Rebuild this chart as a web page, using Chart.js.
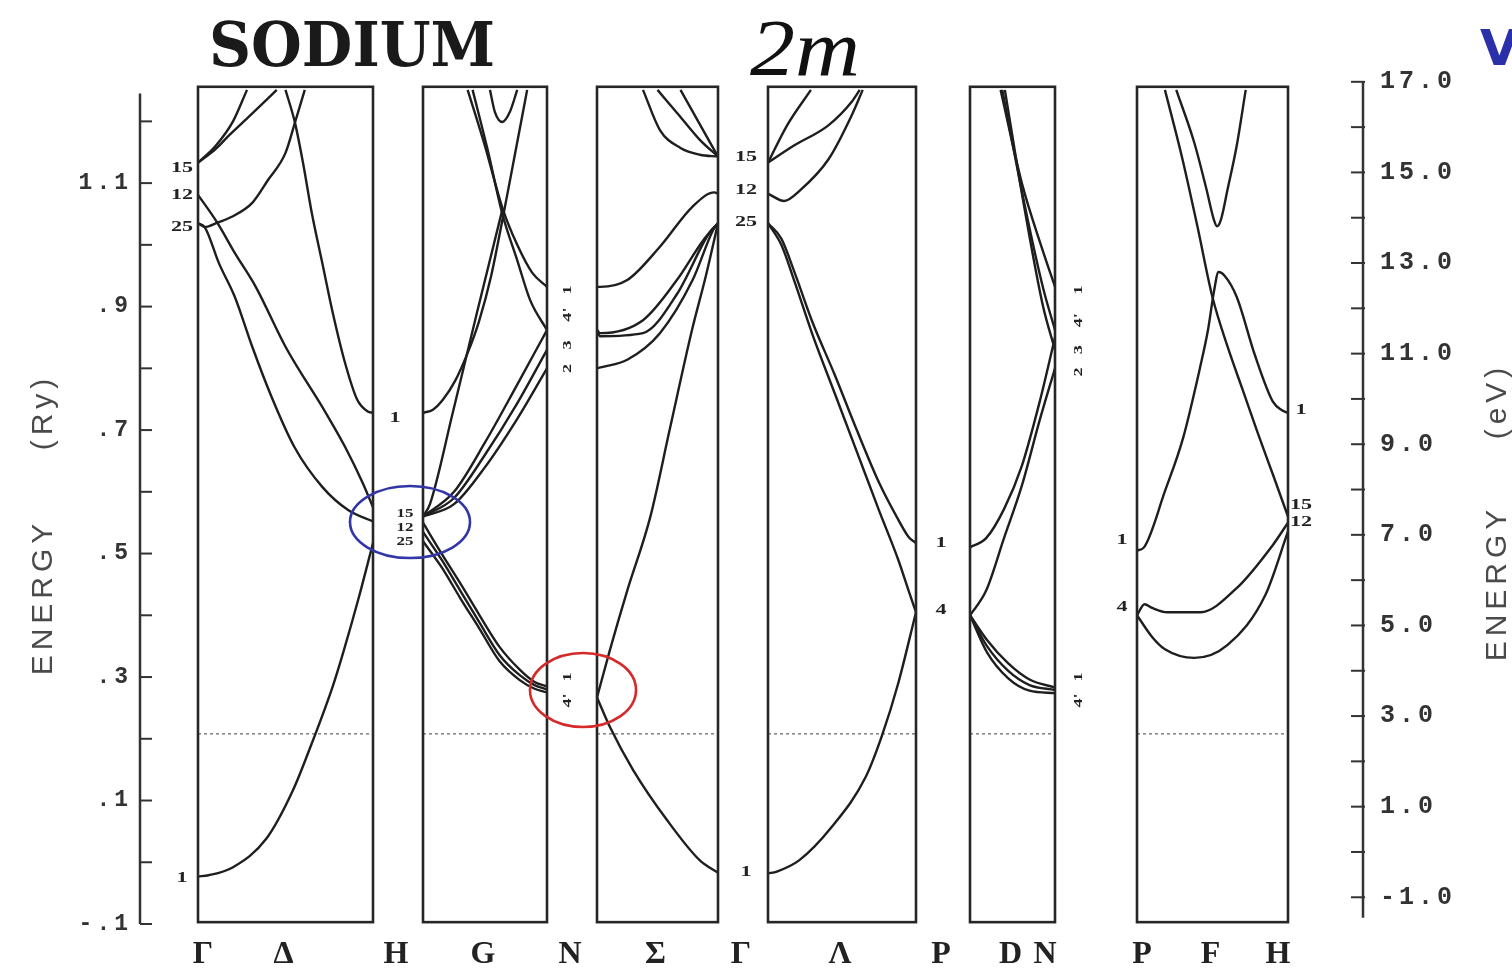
<!DOCTYPE html>
<html>
<head>
<meta charset="utf-8">
<script src="https://cdn.jsdelivr.net/npm/chart.js@4.4.1/dist/chart.umd.min.js"></script>
<style>
  html, body { margin: 0; padding: 0; background: #fff; }
  #wrap { position: relative; width: 1512px; height: 971px; overflow: hidden; background: #fff; }
  canvas { display: block; }
</style>
</head>
<body>
<div id="wrap"><canvas id="bands" width="1512" height="971"></canvas></div>
<script>
// symmetry points along each panel of the path
const pathPanels = [['Γ', 'Δ', 'H'], ['H', 'G', 'N'], ['N', 'Σ', 'Γ'], ['Γ', 'Λ', 'P'], ['P', 'D', 'N'], ['P', 'F', 'H']];

// bands: [k as fraction of panel, energy in Ry]
const bandsGammaH = [
  [[0, -0.023], [0.06, -0.021], [0.2, -0.008], [0.39, 0.038], [0.54, 0.115], [0.64, 0.185], [0.77, 0.285], [0.83, 0.34], [0.92, 0.43], [1, 0.517]],
  [[0, 1.035], [0.04, 1.028], [0.12, 0.97], [0.21, 0.916], [0.31, 0.835], [0.42, 0.754], [0.55, 0.673], [0.71, 0.608], [0.86, 0.57], [1, 0.552]],
  [[0, 1.081], [0.11, 1.036], [0.21, 0.987], [0.33, 0.932], [0.5, 0.835], [0.73, 0.728], [0.84, 0.673], [0.94, 0.615], [1, 0.575]],
  [[0.5, 1.251], [0.554, 1.198], [0.6, 1.133], [0.65, 1.052], [0.71, 0.971], [0.77, 0.89], [0.84, 0.809], [0.91, 0.749], [0.97, 0.73], [1, 0.728]],
  [[0, 1.035], [0.04, 1.029], [0.11, 1.036], [0.19, 1.045], [0.31, 1.068], [0.4, 1.105], [0.5, 1.149], [0.554, 1.198], [0.61, 1.251]],
  [[0, 1.133], [0.1, 1.16], [0.2, 1.2], [0.28, 1.251]],
  [[0, 1.133], [0.1, 1.155], [0.18, 1.178], [0.3, 1.21], [0.45, 1.251]]
];
const bandsHN = [
  [[0, 0.728], [0.08, 0.733], [0.16, 0.749], [0.26, 0.78], [0.36, 0.825], [0.45, 0.875], [0.55, 0.95], [0.64, 1.04], [0.74, 1.145], [0.84, 1.251]],
  [[0.4, 1.251], [0.52, 1.155], [0.64, 1.05], [0.76, 0.975], [0.865, 0.91], [1, 0.862]],
  [[0.36, 1.251], [0.5, 1.16], [0.64, 1.06], [0.76, 1.0], [0.88, 0.955], [1, 0.932]],
  [[0, 0.56], [0.056, 0.58], [0.24, 0.728], [0.435, 0.89], [0.64, 1.057]],
  [[0.54, 1.251], [0.58, 1.215], [0.64, 1.199], [0.7, 1.215], [0.76, 1.251]],
  [[0, 0.56], [0.25, 0.6], [0.5, 0.68], [0.75, 0.77], [1, 0.862]],
  [[0, 0.56], [0.25, 0.59], [0.5, 0.66], [0.75, 0.74], [1, 0.83]],
  [[0, 0.56], [0.25, 0.58], [0.5, 0.64], [0.75, 0.715], [1, 0.8]],
  [[0, 0.535], [0.15, 0.49], [0.3, 0.44], [0.45, 0.39], [0.62, 0.335], [0.78, 0.303], [0.9, 0.287], [1, 0.28]],
  [[0, 0.55], [0.15, 0.5], [0.3, 0.452], [0.45, 0.402], [0.62, 0.348], [0.78, 0.312], [0.9, 0.292], [1, 0.285]],
  [[0, 0.52], [0.15, 0.478], [0.3, 0.428], [0.45, 0.38], [0.62, 0.325], [0.78, 0.295], [0.9, 0.281], [1, 0.275]]
];
const bandsNGamma = [
  [[0, 0.932], [0.025, 0.932], [0.25, 0.943], [0.52, 0.997], [0.79, 1.062], [0.97, 1.085], [1, 1.083]],
  [[0, 0.862], [0.025, 0.857], [0.38, 0.878], [0.66, 0.943], [0.88, 1.008], [1, 1.035]],
  [[0, 0.862], [0.025, 0.852], [0.38, 0.857], [0.66, 0.92], [0.93, 1.02], [1, 1.035]],
  [[0, 0.8], [0.04, 0.802], [0.25, 0.814], [0.52, 0.857], [0.79, 0.943], [0.96, 1.024], [1, 1.035]],
  [[0.38, 1.251], [0.52, 1.186], [0.69, 1.157], [0.85, 1.146], [1, 1.143]],
  [[0.5, 1.251], [0.69, 1.207], [0.85, 1.17], [1, 1.143]],
  [[0.69, 1.251], [0.85, 1.195], [1, 1.143]],
  [[0, 0.267], [0.107, 0.344], [0.25, 0.44], [0.44, 0.559], [0.6, 0.7], [0.785, 0.862], [0.9, 0.95], [1, 1.035]],
  [[0, 0.267], [0.107, 0.219], [0.3, 0.149], [0.58, 0.068], [0.85, 0.003], [1, -0.017]]
];
const bandsGammaP = [
  [[0, 1.133], [0.13, 1.194], [0.29, 1.251]],
  [[0, 1.133], [0.17, 1.16], [0.41, 1.194], [0.57, 1.233], [0.62, 1.251]],
  [[0, 1.083], [0.11, 1.071], [0.22, 1.089], [0.41, 1.139], [0.57, 1.212], [0.64, 1.251]],
  [[0, 1.035], [0.09, 1.01], [0.18, 0.955], [0.3, 0.875], [0.45, 0.79], [0.6, 0.7], [0.75, 0.615], [0.88, 0.555], [0.95, 0.527], [1, 0.517]],
  [[0, 1.035], [0.09, 1.0], [0.18, 0.94], [0.3, 0.855], [0.45, 0.76], [0.6, 0.665], [0.75, 0.57], [0.88, 0.49], [0.95, 0.44], [1, 0.405]],
  [[0, -0.018], [0.06, -0.015], [0.21, 0.003], [0.43, 0.057], [0.66, 0.138], [0.77, 0.205], [0.88, 0.29], [1, 0.405]]
];
const bandsPN = [
  [[0.36, 1.251], [0.61, 1.1], [0.86, 0.989], [1, 0.932]],
  [[0.38, 1.251], [0.62, 1.08], [0.86, 0.93], [1, 0.862]],
  [[0.41, 1.251], [0.64, 1.06], [0.86, 0.9], [1, 0.83]],
  [[0, 0.51], [0.19, 0.525], [0.4, 0.572], [0.61, 0.642], [0.82, 0.746], [1, 0.85]],
  [[0, 0.4], [0.19, 0.44], [0.4, 0.525], [0.61, 0.61], [0.82, 0.716], [1, 0.8]],
  [[0, 0.4], [0.2, 0.36], [0.45, 0.322], [0.7, 0.296], [1, 0.283]],
  [[0, 0.4], [0.2, 0.35], [0.45, 0.31], [0.7, 0.287], [1, 0.279]],
  [[0, 0.4], [0.2, 0.34], [0.45, 0.298], [0.7, 0.278], [1, 0.274]]
];
const bandsPH = [
  [[0, 0.505], [0.046, 0.51], [0.185, 0.601], [0.305, 0.687], [0.42, 0.804], [0.47, 0.862], [0.51, 0.925], [0.54, 0.956], [0.58, 0.95], [0.66, 0.916], [0.78, 0.822], [0.9, 0.746], [0.96, 0.732], [1, 0.728]],
  [[0.185, 1.251], [0.3, 1.14], [0.4, 1.03], [0.5, 0.915], [0.6, 0.835], [0.7, 0.765], [0.8, 0.695], [0.9, 0.628], [1, 0.56]],
  [[0.26, 1.251], [0.38, 1.165], [0.46, 1.09], [0.51, 1.04], [0.53, 1.03], [0.555, 1.04], [0.6, 1.09], [0.66, 1.16], [0.72, 1.251]],
  [[0, 0.4], [0.05, 0.418], [0.1, 0.412], [0.2, 0.405], [0.42, 0.405], [0.66, 0.444], [0.9, 0.514], [1, 0.55]],
  [[0, 0.4], [0.1, 0.365], [0.185, 0.345], [0.38, 0.331], [0.6, 0.352], [0.85, 0.433], [1, 0.536]]
];
const panelBands = [bandsGammaH, bandsHN, bandsNGamma, bandsGammaP, bandsPN, bandsPH];

// level labels at symmetry points: panel, edge (0 left / 1 right), energies, names
const levelTags = [
  { p: 0, edge: 0, dx: -16, rot: false, e: [1.125, 1.081, 1.029, -0.026], t: ['15', '12', '25', '1'] },
  { p: 0, edge: 1, dx: 22, rot: false, e: [0.72], t: ['1'] },
  { p: 0, edge: 1, dx: 32, rot: false, small: true, e: [0.564, 0.542, 0.519], t: ['15', '12', '25'] },
  { p: 1, edge: 1, dx: 21, rot: true, e: [0.927, 0.887, 0.838, 0.8], t: ['1', "4'", '3', '2'] },
  { p: 1, edge: 1, dx: 21, rot: true, e: [0.3, 0.262], t: ['1', "4'"] },
  { p: 2, edge: 1, dx: 28, rot: false, e: [1.143, 1.089, 1.037, -0.016], t: ['15', '12', '25', '1'] },
  { p: 3, edge: 1, dx: 25, rot: false, e: [0.517, 0.408], t: ['1', '4'] },
  { p: 4, edge: 1, dx: 24, rot: true, e: [0.927, 0.878, 0.83, 0.794], t: ['1', "4'", '3', '2'] },
  { p: 4, edge: 1, dx: 24, rot: true, e: [0.3, 0.262], t: ['1', "4'"] },
  { p: 5, edge: 0, dx: -15, rot: false, e: [0.522, 0.413], t: ['1', '4'] },
  { p: 5, edge: 1, dx: 13, rot: false, e: [0.733, 0.579, 0.551], t: ['1', '15', '12'] }
];

const fermiRy = 0.208;
const ryRange = [-0.1, 1.267];
const evRange = [-1.59, 17.04];
const ryTicks = [-0.1, 0, 0.1, 0.2, 0.3, 0.4, 0.5, 0.6, 0.7, 0.8, 0.9, 1.0, 1.1, 1.2];
const evTicks = [-1, 0, 1, 2, 3, 4, 5, 6, 7, 8, 9, 10, 11, 12, 13, 14, 15, 16, 17];
const highlightH = 0.551;   // blue ring at H
const highlightN = 0.279;   // red ring at N

// layout of the six panels along the x axis (axis units)
const panelSpan = [[58, 233], [283, 407], [457, 578], [628, 776], [830, 915], [997, 1148]];
const panelTop = 1.256, panelBottom = -0.097;

// x tick positions/labels from the panels
const tickPos = [], tickNames = [];
pathPanels.forEach((pts, p) => {
  const [x0, x1] = panelSpan[p];
  const prev = panelSpan[p - 1];
  const shared = p > 0 && pathPanels[p - 1][2] === pts[0] && x0 - prev[1] < 60;
  if (!shared) { tickPos.push(x0 + 7); tickNames.push(pts[0]); }
  tickPos.push((x0 + x1) / 2); tickNames.push(pts[1]);
  const next = panelSpan[p + 1];
  const sharedNext = p < pathPanels.length - 1 && pathPanels[p + 1][0] === pts[2] && next[0] - x1 < 60;
  if (sharedNext) { tickPos.push((x1 + next[0]) / 2); } else { tickPos.push(x1 - 8); }
  tickNames.push(pts[2]);
});

const datasets = [];
panelBands.forEach((bands, p) => {
  const [x0, x1] = panelSpan[p];
  bands.forEach(band => {
    datasets.push({
      data: band.map(([f, e]) => ({ x: x0 + f * (x1 - x0), y: e })),
      showLine: true,
      borderColor: '#1e1e1e',
      borderWidth: 2.4,
      pointRadius: 0,
      cubicInterpolationMode: 'monotone',
      fill: false
    });
  });
});

function drawTag(ctx, x, y, text, rot, size) {
  ctx.save();
  ctx.translate(x, y);
  if (rot) ctx.rotate(-Math.PI / 2);
  ctx.scale(1.3, 0.9);
  ctx.font = 'bold ' + size + 'px "Liberation Serif"';
  ctx.fillStyle = '#222';
  ctx.textAlign = 'center';
  ctx.textBaseline = 'middle';
  ctx.fillText(text, 0, 0);
  ctx.restore();
}

function drawRotated(ctx, text, x, y) {
  ctx.save();
  ctx.translate(x, y);
  ctx.rotate(-Math.PI / 2);
  ctx.textAlign = 'center';
  ctx.textBaseline = 'middle';
  ctx.fillText(text, 0, 0);
  ctx.restore();
}

const decor = {
  id: 'decor',
  beforeDraw(chart) {
    chart.ctx.letterSpacing = '4px';
  },
  beforeDatasetsDraw(chart) {
    const ctx = chart.ctx;
    ctx.letterSpacing = '0px';
    const sx = chart.scales.x, sy = chart.scales.y;
    // Fermi level, dotted
    ctx.save();
    ctx.strokeStyle = '#808080';
    ctx.lineWidth = 1.5;
    ctx.setLineDash([3, 3]);
    panelSpan.forEach(([x0, x1]) => {
      const y = sy.getPixelForValue(fermiRy);
      ctx.beginPath();
      ctx.moveTo(sx.getPixelForValue(x0), y);
      ctx.lineTo(sx.getPixelForValue(x1), y);
      ctx.stroke();
    });
    ctx.restore();
  },
  afterDatasetsDraw(chart) {
    const ctx = chart.ctx;
    const sx = chart.scales.x, sy = chart.scales.y, se = chart.scales.y2;
    const area = chart.chartArea;
    ctx.save();
    ctx.letterSpacing = '0px';

    // panel frames
    ctx.strokeStyle = '#262626';
    ctx.lineWidth = 2.6;
    panelSpan.forEach(([x0, x1]) => {
      const l = sx.getPixelForValue(x0), r = sx.getPixelForValue(x1);
      const t = sy.getPixelForValue(panelTop), b = sy.getPixelForValue(panelBottom);
      ctx.strokeRect(l, t, r - l, b - t);
    });

    // left axis (Ry) with inward ticks
    ctx.strokeStyle = '#333';
    ctx.lineWidth = 2.5;
    ctx.beginPath();
    ctx.moveTo(area.left, sy.getPixelForValue(-0.1));
    ctx.lineTo(area.left, sy.getPixelForValue(1.245));
    ctx.stroke();
    ctx.lineWidth = 2;
    ryTicks.forEach(v => {
      const y = sy.getPixelForValue(v);
      ctx.beginPath();
      ctx.moveTo(area.left, y);
      ctx.lineTo(area.left + 12, y);
      ctx.stroke();
    });

    // right axis (eV) with inward ticks
    ctx.lineWidth = 2.5;
    ctx.beginPath();
    ctx.moveTo(area.right, se.getPixelForValue(17));
    ctx.lineTo(area.right, se.getPixelForValue(-1.45));
    ctx.stroke();
    ctx.lineWidth = 2;
    evTicks.forEach(v => {
      const y = se.getPixelForValue(v);
      ctx.beginPath();
      ctx.moveTo(area.right - 12, y);
      ctx.lineTo(area.right + 2, y);
      ctx.stroke();
    });

    // symmetry level labels
    levelTags.forEach(tag => {
      const span = panelSpan[tag.p];
      const x = sx.getPixelForValue(span[tag.edge]) + tag.dx;
      tag.e.forEach((e, i) => {
        drawTag(ctx, x, sy.getPixelForValue(e), tag.t[i], tag.rot, tag.small ? 13 : (tag.rot ? 14 : 17));
      });
    });

    // highlight rings
    ctx.lineWidth = 2.6;
    ctx.strokeStyle = '#3236a6';
    ctx.beginPath();
    ctx.ellipse((sx.getPixelForValue(panelSpan[0][1]) + sx.getPixelForValue(panelSpan[1][0])) / 2 + 12,
      sy.getPixelForValue(highlightH), 60, 36, 0, 0, Math.PI * 2);
    ctx.stroke();
    ctx.strokeStyle = '#d62a2a';
    ctx.beginPath();
    ctx.ellipse((sx.getPixelForValue(panelSpan[1][1]) + sx.getPixelForValue(panelSpan[2][0])) / 2 + 11,
      sy.getPixelForValue(highlightN), 53, 37, 0, 0, Math.PI * 2);
    ctx.stroke();

    // axis titles
    ctx.fillStyle = '#4a4a4a';
    ctx.font = '30px "Liberation Sans"';
    ctx.letterSpacing = '5px';
    drawRotated(ctx, 'ENERGY', 44, 597);
    drawRotated(ctx, '(Ry)', 44, 412);
    drawRotated(ctx, 'ENERGY', 1498, 583);
    drawRotated(ctx, '(eV)', 1498, 401);
    ctx.letterSpacing = '0px';

    // header text
    ctx.fillStyle = '#1a1a1a';
    ctx.textAlign = 'left';
    ctx.textBaseline = 'alphabetic';
    ctx.font = 'bold 62px "DejaVu Serif"';
    let w = ctx.measureText('SODIUM').width;
    ctx.save();
    ctx.translate(209, 66);
    ctx.scale(286 / w, 1);
    ctx.fillText('SODIUM', 0, 0);
    ctx.restore();

    ctx.fillStyle = '#111';
    ctx.font = 'italic 80px "Liberation Serif"';
    w = ctx.measureText('2m').width;
    ctx.save();
    ctx.translate(750, 75);
    ctx.scale(110 / w, 1);
    ctx.fillText('2m', 0, 0);
    ctx.restore();

    ctx.fillStyle = '#2b2fa8';
    ctx.font = 'bold 50px "DejaVu Sans"';
    ctx.fillText('V', 1480, 65);
    ctx.restore();
  }
};

new Chart(document.getElementById('bands'), {
  type: 'scatter',
  data: { datasets: datasets },
  options: {
    responsive: false,
    animation: false,
    events: [],
    layout: { padding: { top: 80, left: 0, right: 0, bottom: 0 } },
    plugins: { legend: { display: false }, tooltip: { enabled: false } },
    scales: {
      x: {
        type: 'linear',
        min: 0,
        max: 1223,
        afterFit: s => { s.height = 47; },
        afterBuildTicks: s => { s.ticks = tickPos.map(v => ({ value: v })); },
        ticks: {
          autoSkip: false,
          maxRotation: 0,
          padding: 12,
          color: '#222',
          font: { family: 'Liberation Serif', size: 32, weight: 'bold' },
          callback: (v, i) => tickNames[i]
        },
        grid: { display: false, drawTicks: false },
        border: { display: false }
      },
      y: {
        type: 'linear',
        position: 'left',
        min: ryRange[0],
        max: ryRange[1],
        afterFit: s => { s.width = 140; },
        afterBuildTicks: s => { s.ticks = ryTicks.map(v => ({ value: v })); },
        ticks: {
          autoSkip: false,
          padding: 8,
          color: '#333',
          font: { family: 'Liberation Mono', size: 23, weight: 'bold' },
          callback: v => {
            const n = Math.round(v * 10);
            if (Math.abs(v * 10 - n) > 1e-6 || n % 2 === 0) return '';
            if (n < 0) return '-.' + (-n);
            if (n < 10) return '.' + n;
            return (n / 10).toFixed(1);
          }
        },
        grid: { display: false, drawTicks: false },
        border: { display: false }
      },
      y2: {
        type: 'linear',
        position: 'right',
        min: evRange[0],
        max: evRange[1],
        afterFit: s => { s.width = 149; },
        afterBuildTicks: s => { s.ticks = evTicks.map(v => ({ value: v })); },
        ticks: {
          autoSkip: false,
          padding: 17,
          color: '#333',
          font: { family: 'Liberation Mono', size: 25, weight: 'bold' },
          callback: v => {
            const n = Math.round(v);
            if (Math.abs(v - n) > 1e-6 || n % 2 === 0) return '';
            return n.toFixed(1);
          }
        },
        grid: { display: false, drawTicks: false },
        border: { display: false }
      }
    }
  },
  plugins: [decor]
});
</script>
</body>
</html>
